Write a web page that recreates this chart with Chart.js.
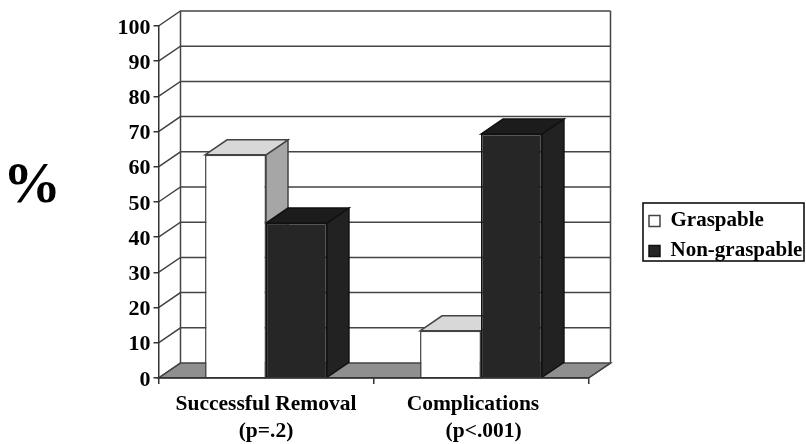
<!DOCTYPE html>
<html>
<head>
<meta charset="utf-8">
<style>
  html, body { margin: 0; padding: 0; background: #fff; }
  canvas { display: block; }
</style>
<script src="https://cdn.jsdelivr.net/npm/chart.js@4/dist/chart.umd.min.js"></script>
</head>
<body>
<canvas id="chart" width="806" height="444"></canvas>
<script>
"use strict";

const categories = [["Successful Removal", "(p=.2)"], ["Complications   ", " (p<.001)"]];
const graspable = [63.4, 13.4];
const nonGraspable = [44, 69.3];
const seriesNames = ["Graspable", "Non-graspable"];
const yTicks = { min: 0, max: 100, step: 10 };
const yLabel = "%";

const SERIF = "'Liberation Serif', serif";
const DEPTH_X = 22;
const DEPTH_Y = 15;
const LINE = "#444";

function poly(ctx, pts, fill, stroke) {
    ctx.beginPath();
    pts.forEach((p, i) => i ? ctx.lineTo(p[0], p[1]) : ctx.moveTo(p[0], p[1]));
    ctx.closePath();
    ctx.fillStyle = fill;
    ctx.fill();
    ctx.strokeStyle = stroke;
    ctx.lineWidth = 1.5;
    ctx.stroke();
}

// 3D look: back wall, side wall lines and floor, then bar tops and sides
const depthPlugin = {
    id: "depth",
    beforeDraw(chart) {
        const { ctx, chartArea: a, scales } = chart;
        const y = scales.y;
        ctx.save();
        poly(ctx, [[a.left, a.bottom], [a.left + DEPTH_X, a.bottom - DEPTH_Y],
            [a.right + DEPTH_X, a.bottom - DEPTH_Y], [a.right, a.bottom]], "#8f8f8f", LINE);
        ctx.strokeStyle = LINE;
        ctx.lineWidth = 1.5;
        y.ticks.forEach(t => {
            const py = y.getPixelForValue(t.value);
            ctx.beginPath();
            ctx.moveTo(a.left, py);
            ctx.lineTo(a.left + DEPTH_X, py - DEPTH_Y);
            if (t.value > 0) ctx.lineTo(a.right + DEPTH_X, py - DEPTH_Y);
            ctx.stroke();
        });
        ctx.beginPath();
        ctx.moveTo(a.left + DEPTH_X, a.top - DEPTH_Y);
        ctx.lineTo(a.left + DEPTH_X, a.bottom - DEPTH_Y);
        ctx.moveTo(a.right + DEPTH_X, a.top - DEPTH_Y);
        ctx.lineTo(a.right + DEPTH_X, a.bottom - DEPTH_Y);
        ctx.lineTo(a.right, a.bottom);
        ctx.stroke();
        ctx.restore();
    },
    beforeDatasetsDraw(chart) {
        const { ctx } = chart;
        const topColors = ["#d8d8d8", "#1c1c1c"];
        const sideColors = ["#a6a6a6", "#222222"];
        const edge = [LINE, "#111"];
        const bars = [];
        chart.data.datasets.forEach((ds, d) => {
            chart.getDatasetMeta(d).data.forEach((bar, i) => bars.push({ bar, d, i }));
        });
        bars.sort((p, q) => p.i - q.i || p.d - q.d);
        bars.forEach(({ bar, d }) => {
            const l = bar.x - bar.width / 2;
            const r = bar.x + bar.width / 2;
            const t = bar.y;
            const b = bar.base;
            poly(ctx, [[r, t], [r + DEPTH_X, t - DEPTH_Y], [r + DEPTH_X, b - DEPTH_Y], [r, b]], sideColors[d], edge[d]);
            poly(ctx, [[l, t], [l + DEPTH_X, t - DEPTH_Y], [r + DEPTH_X, t - DEPTH_Y], [r, t]], topColors[d], edge[d]);
        });
    },
    // the legend sits outside the plot, move it
    afterUpdate(chart) {
        const lg = chart.legend;
        lg.left = 640;
        lg.right = 806;
        lg.top = 201.5;
        lg.bottom = 300;
    },
    afterDraw(chart) {
        const { ctx } = chart;
        ctx.save();
        ctx.strokeStyle = "#000";
        ctx.lineWidth = 1.5;
        ctx.strokeRect(643, 203, 161, 58);
        ctx.fillStyle = "#000";
        ctx.font = "bold 58px " + SERIF;
        ctx.textAlign = "center";
        ctx.textBaseline = "middle";
        ctx.fillText(yLabel, 32, 187);
        ctx.restore();
    }
};

new Chart(document.getElementById("chart"), {
    type: "bar",
    data: {
        labels: categories,
        datasets: [{
            label: seriesNames[0],
            data: graspable,
            backgroundColor: "#ffffff",
            borderColor: LINE,
            borderWidth: 1.5
        }, {
            label: seriesNames[1],
            data: nonGraspable,
            backgroundColor: "#262626",
            borderColor: "#111111",
            borderWidth: 1.5
        }]
    },
    options: {
        responsive: false,
        animation: false,
        layout: { padding: { top: 26, right: 217.5, bottom: 0, left: 0 } },
        categoryPercentage: 0.567,
        barPercentage: 1,
        plugins: {
            tooltip: { enabled: false },
            legend: {
                position: "chartArea",
                align: "start",
                labels: {
                    boxWidth: 11,
                    boxHeight: 11,
                    padding: 9,
                    color: "#000",
                    font: { family: SERIF, weight: "bold", size: 21 }
                }
            }
        },
        scales: {
            x: {
                afterFit: s => { s.height = 66; },
                grid: { drawOnChartArea: false, tickLength: 6, color: "#333", lineWidth: 1.5 },
                border: { color: "#333", width: 1.5, z: 1 },
                ticks: {
                    color: "#000",
                    maxRotation: 0,
                    padding: 7.5,
                    font: { family: SERIF, weight: "bold", size: 21.5, lineHeight: 1.25 }
                }
            },
            y: {
                min: yTicks.min,
                max: yTicks.max,
                afterFit: s => { s.width = 158.5; },
                grid: { drawOnChartArea: false, tickLength: 5, color: "#333", lineWidth: 1.5 },
                border: { color: "#333", width: 1.5, z: 1 },
                ticks: {
                    stepSize: yTicks.step,
                    color: "#000",
                    padding: 3,
                    labelOffset: 2,
                    font: { family: SERIF, weight: "bold", size: 22 }
                }
            }
        }
    },
    plugins: [depthPlugin]
});
</script>
</body>
</html>
